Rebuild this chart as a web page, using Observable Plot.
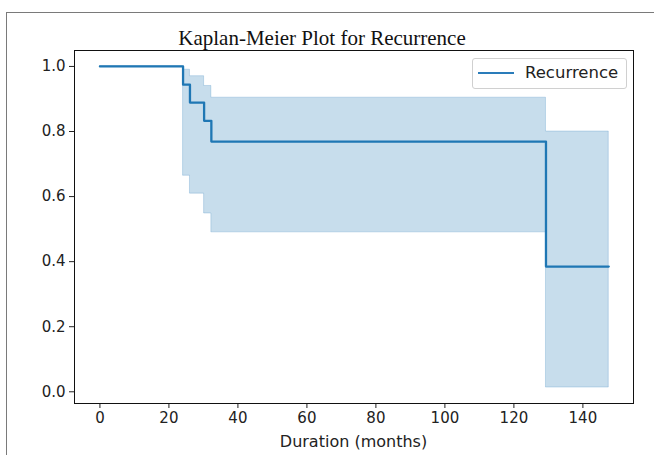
<!DOCTYPE html>
<html>
<head>
<meta charset="utf-8">
<script src="https://cdn.jsdelivr.net/npm/d3@7"></script>
<script src="https://cdn.jsdelivr.net/npm/@observablehq/plot@0.6"></script>
<style>
  html, body { margin: 0; padding: 0; background: white; }
  #wrap { position: relative; width: 654px; height: 455px; overflow: hidden; background: white; }
  #frame { position: absolute; left: 6px; top: 12px; width: 700px; height: 500px; border: 1.5px solid #7a7a7a; box-sizing: border-box; }
  #chart { position: absolute; left: 0; top: 0; }
  #title { position: absolute; left: 0; width: 644px; top: 25px; line-height: 26px; text-align: center;
           font-family: "Liberation Serif", "Times New Roman", serif; font-size: 21px; color: #111; }
  #xlabel { position: absolute; left: 74px; width: 559px; top: 432px; line-height: 20px; text-align: center;
            font-family: "DejaVu Sans", sans-serif; font-size: 16px; color: #222; }
  #legend { position: absolute; left: 472px; top: 58px; width: 155px; height: 31px; box-sizing: border-box;
            border: 1px solid #d0d0d0; border-radius: 3px; background: rgba(255,255,255,0.85);
            font-family: "DejaVu Sans", sans-serif; font-size: 16.5px; color: #222; }
  #legend .sw { position: absolute; left: 5px; top: 13px; width: 36px; height: 2px; background: #2a7cba; }
  #legend .lb { position: absolute; left: 52px; top: 4px; line-height: 20px; }
</style>
</head>
<body>
<div id="wrap">
  <div id="frame"></div>
  <div id="chart"></div>
  <div id="title">Kaplan-Meier Plot for Recurrence</div>
  <div id="xlabel">Duration (months)</div>
  <div id="legend"><div class="sw"></div><div class="lb">Recurrence</div></div>
</div>
<script>
const seriesName = "Recurrence";
const times    = [0, 24.1, 26.1, 30.2, 32.3, 129.3, 147.5];
const survival = [1.0, 0.944, 0.889, 0.833, 0.769, 0.385, 0.385];
const ciLower  = [1.0, 0.664, 0.609, 0.548, 0.490, 0.013, 0.013];
const ciUpper  = [1.0, 0.990, 0.970, 0.940, 0.904, 0.800, 0.800];
const xTicks = [0, 20, 40, 60, 80, 100, 120, 140];
const yTicks = [0.0, 0.2, 0.4, 0.6, 0.8, 1.0];

const rows = times.map((t, i) => ({t, s: survival[i], lo: ciLower[i], hi: ciUpper[i]}));

const chart = Plot.plot({
  width: 654,
  height: 455,
  marginLeft: 74,
  marginRight: 21,
  marginTop: 50,
  marginBottom: 52,
  style: {background: "transparent", fontFamily: "DejaVu Sans, sans-serif", fontSize: "15px", color: "#222"},
  x: {domain: [-7.37, 154.67], ticks: xTicks, tickFormat: d3.format("d"), tickSize: 5, tickPadding: 4, label: null},
  y: {domain: [-0.036, 1.049], ticks: yTicks, tickFormat: d3.format(".1f"), tickSize: 5, tickPadding: 4, label: null},
  marks: [
    Plot.areaY(rows, {x: "t", y1: "lo", y2: "hi", curve: "step-after", fill: "#1f77b4", fillOpacity: 0.25,
                      stroke: "#1f77b4", strokeOpacity: 0.22, strokeWidth: 1}),
    Plot.line(rows, {x: "t", y: "s", curve: "step-after", stroke: "#1f77b4", strokeWidth: 2.3}),
    Plot.frame({stroke: "#111", strokeWidth: 1})
  ]
});
document.getElementById("chart").appendChild(chart);
</script>
</body>
</html>
